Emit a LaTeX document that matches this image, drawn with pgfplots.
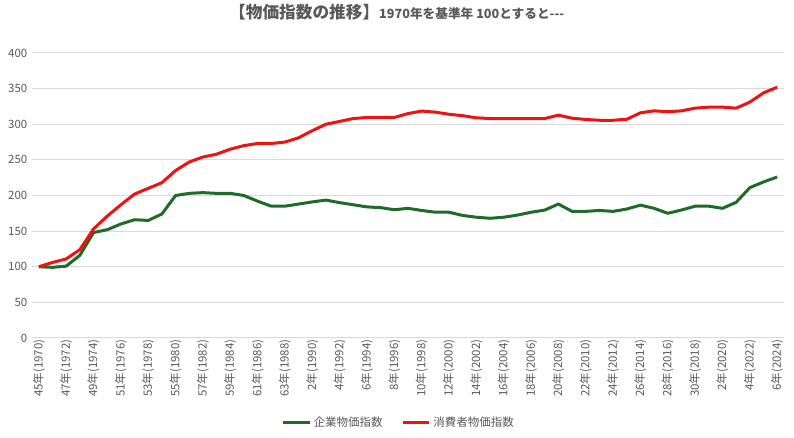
\documentclass[border=0pt]{standalone}
\usepackage{pgfplots}
\pgfplotsset{compat=1.18}
\usepackage{pgfplotstable}
\usepackage{fontspec}
\setmainfont{Noto Sans CJK JP}
\definecolor{txtgray}{HTML}{595959}
\definecolor{gridgray}{HTML}{D9D9D9}
\definecolor{cgreen}{RGB}{30,108,40}
\definecolor{cred}{RGB}{238,18,18}
\pgfplotstableread{
x y
0 100
1 99.2
2 100.8
3 116
4 148
5 152
6 160
7 166
8 165
9 174
10 200
11 203
12 204
13 203
14 203
15 200
16 192
17 185
18 185
19 188
20 191
21 193.5
22 190
23 187
24 184
25 183
26 180
27 182
28 179
29 176.5
30 176.5
31 172
32 169.5
33 168
34 169.5
35 172.5
36 176.5
37 179.5
38 188
39 177.7
40 177.7
41 179
42 177.7
43 181
44 186.5
45 182
46 175
47 179.6
48 185
49 185
50 182
51 190.4
52 211
53 219
54 226
}\cgpi
\pgfplotstableread{
x y
0 100
1 106
2 111
3 124
4 153
5 171
6 187
7 202
8 210
9 218
10 235
11 247
12 254
13 258
14 265
15 270
16 273
17 273
18 275
19 281
20 291
21 300
22 304
23 308
24 309.5
25 309.5
26 309.5
27 315
28 318.5
29 317
30 314
31 312
32 309
33 308
34 308
35 308
36 308
37 308
38 312.7
39 308.5
40 306.7
41 305.6
42 305.6
43 307
44 316
45 318.8
46 317.6
47 318.8
48 322.6
49 324
50 324
51 322.6
52 331
53 344
54 352
}\cpi
\begin{document}
\begin{tikzpicture}
\useasboundingbox (-24pt,-75pt) rectangle (571.5pt,253.5pt);
\begin{axis}[
  at={(0,0)}, anchor=south west,
  scale only axis,
  width=564pt, height=213.75pt,
  xmin=-0.5, xmax=54.5,
  ymin=0, ymax=400,
  ytick={0,50,...,400},
  xtick={0,2,...,54},
  xticklabels={45年(1970),47年(1972),49年(1974),51年(1976),53年(1978),55年(1980),57年(1982),59年(1984),61年(1986),63年(1988),2年(1990),4年(1992),6年(1994),8年(1996),10年(1998),12年(2000),14年(2002),16年(2004),18年(2006),20年(2008),22年(2010),24年(2012),26年(2014),28年(2016),30年(2018),2年(2020),4年(2022),6年(2024)\hspace{6pt}},
  xticklabel style={rotate=90, anchor=east, font=\fontsize{8.6pt}{10pt}\selectfont, text=txtgray, inner sep=1pt, xshift=0pt},
  yticklabel style={font=\fontsize{8.6pt}{10pt}\selectfont, text=txtgray},
  /pgf/number format/assume math mode=true,
  major tick length=0pt,
  axis line style={draw=none},
  ymajorgrids,
  grid style={gridgray, line width=0.75pt},
  title={\bfseries\fontsize{12.5pt}{14pt}\selectfont 【物価指数の推移】\fontsize{9.5pt}{12pt}\selectfont 1970年を基準年 100とすると-{}-{}-},
  title style={at={(0.485,1)}, anchor=center, yshift=24.75pt, text=txtgray},
  legend style={at={(0.488,-0.298)}, anchor=center, draw=none, legend columns=2,
    font=\fontsize{8.6pt}{10pt}\selectfont, text=txtgray,
    /tikz/every even column/.append style={column sep=12pt}},
  legend image code/.code={\draw[#1] (0cm,0cm) -- (0.7cm,0cm);},
]
\addplot[cgreen, line width=2.25pt, line join=round, no markers] table[x=x,y=y]{\cgpi};
\addlegendentry{企業物価指数}
\addplot[cred, line width=2.25pt, line join=round, no markers] table[x=x,y=y]{\cpi};
\addlegendentry{消費者物価指数}
\end{axis}
\end{tikzpicture}
\end{document}
